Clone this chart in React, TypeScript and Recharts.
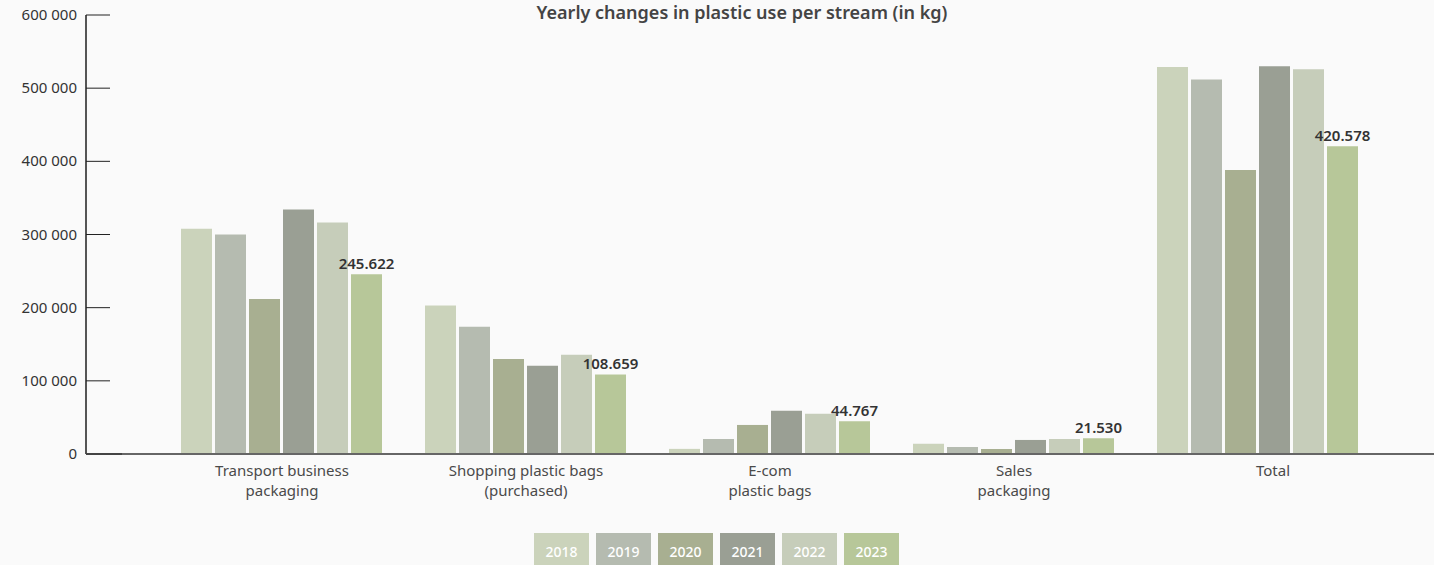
import React from "react";
import { BarChart, Bar, XAxis, YAxis, LabelList } from "recharts";

const categories = [
  "Transport business\npackaging",
  "Shopping plastic bags\n(purchased)",
  "E-com\nplastic bags",
  "Sales\npackaging",
  "Total",
];
const years = ["2018", "2019", "2020", "2021", "2022", "2023"];
const values2018 = [308000, 203000, 7000, 14000, 529000];
const values2019 = [300000, 174000, 20500, 9600, 512000];
const values2020 = [212000, 130000, 39700, 6800, 388000];
const values2021 = [334000, 120500, 59000, 19200, 530000];
const values2022 = [316500, 135600, 55000, 20500, 526000];
const values2023 = [245622, 108659, 44767, 21530, 420578];
const yTicks = [0, 100000, 200000, 300000, 400000, 500000, 600000];

const colors = ["#cbd3bb", "#b5bbb0", "#a8af91", "#9a9f94", "#c6cdba", "#b7c799"];
const FONT = "'Noto Sans', sans-serif";
const AXIS_X = 86;

const series = [values2018, values2019, values2020, values2021, values2022, values2023];
const data = categories.map((name, i) => {
  const row: Record<string, string | number> = { name };
  years.forEach((y, j) => {
    row[y] = series[j][i];
  });
  return row;
});

const spaceThousands = (v: number) => String(v).replace(/\B(?=(\d{3})+(?!\d))/g, " ");
const dotThousands = (v: number) => String(v).replace(/\B(?=(\d{3})+(?!\d))/g, ".");

function YTick(props: any) {
  const { y, payload } = props;
  const isZero = payload.value === 0;
  return (
    <g>
      <line
        x1={AXIS_X}
        x2={isZero ? AXIS_X + 36 : AXIS_X + 24}
        y1={y}
        y2={y}
        stroke={isZero ? "#444" : "#222"}
        strokeWidth={isZero ? 2 : 1}
      />
      <text x={AXIS_X - 9} y={y} dy={5} textAnchor="end" fontSize={15} fill="#333" fontFamily={FONT}>
        {spaceThousands(payload.value)}
      </text>
    </g>
  );
}

function XTick(props: any) {
  const { x, y, payload } = props;
  const lines = String(payload.value).split("\n");
  const shift = payload.value === "Total" ? 15 : 0;
  return (
    <text x={x + shift} y={y} textAnchor="middle" fontSize={15} fill="#4a4a4a" fontFamily={FONT}>
      {lines.map((l, i) => (
        <tspan key={i} x={x + shift} dy={i === 0 ? 22 : 20}>
          {l}
        </tspan>
      ))}
    </text>
  );
}

export default function App() {
  return (
    <div
      style={{
        position: "absolute",
        left: 0,
        top: 0,
        width: 1434,
        height: 565,
        background: "#fafafa",
        overflow: "hidden",
        fontFamily: FONT,
      }}
    >
      <div
        style={{
          position: "absolute",
          top: 2,
          left: 50,
          width: 1384,
          textAlign: "center",
          fontSize: 18,
          lineHeight: "20px",
          fontWeight: 600,
          color: "#444",
        }}
      >
        Yearly changes in plastic use per stream (in kg)
      </div>
      <BarChart
        width={1434}
        height={565}
        data={data}
        margin={{ top: 15, right: 0, bottom: 0, left: 0 }}
        barGap={3}
        barCategoryGap={21}
        style={{ position: "absolute", left: 0, top: 0 }}
      >
        <XAxis
          dataKey="name"
          interval={0}
          height={111}
          padding={{ left: 74, right: 54 }}
          axisLine={{ stroke: "#666", strokeWidth: 2 }}
          tickLine={false}
          tickSize={0}
          tickMargin={0}
          tick={<XTick />}
        />
        <YAxis
          width={AXIS_X}
          domain={[0, 600000]}
          ticks={yTicks}
          interval={0}
          axisLine={{ stroke: "#555", strokeWidth: 2 }}
          tickLine={false}
          tick={<YTick />}
        />
        {years.map((y, j) => (
          <Bar key={y} dataKey={y} fill={colors[j]} isAnimationActive={false}>
            {j === years.length - 1 && (
              <LabelList
                dataKey={y}
                position="top"
                offset={5}
                formatter={(v: any) => dotThousands(Number(v))}
                style={{ fontSize: 15, fontWeight: 600, fill: "#333", fontFamily: FONT }}
              />
            )}
          </Bar>
        ))}
      </BarChart>
      <div style={{ position: "absolute", top: 533, left: 534, display: "flex", gap: 7 }}>
        {years.map((y, j) => (
          <div
            key={y}
            style={{
              width: 55,
              height: 32,
              background: colors[j],
              color: "#fff",
              fontSize: 14,
              lineHeight: "18px",
              fontWeight: 500,
              textAlign: "center",
              paddingTop: 10,
              boxSizing: "border-box",
            }}
          >
            {y}
          </div>
        ))}
      </div>
    </div>
  );
}
